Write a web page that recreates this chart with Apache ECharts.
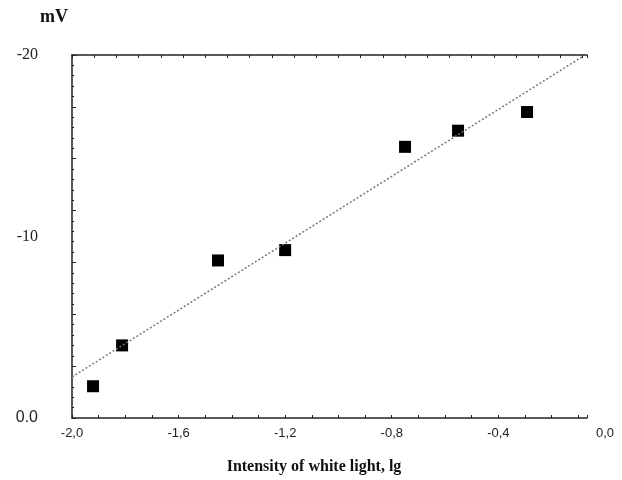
<!DOCTYPE html>
<html>
<head>
<meta charset="utf-8">
<script src="https://cdn.jsdelivr.net/npm/echarts@6/dist/echarts.min.js"></script>
<style>
  html, body { margin: 0; padding: 0; background: #fff; }
  #chart { width: 622px; height: 480px; }
</style>
</head>
<body>
<div id="chart"></div>
<script>
// measured points (log intensity, mV)
var lgIntensity = [-1.921, -1.812, -1.452, -1.2, -0.75, -0.551, -0.292];
var potential = [-1.75, -4.0, -8.68, -9.25, -14.94, -15.83, -16.86];
// fitted line end points
var fitX = [-2.0, -0.085];
var fitY = [-2.26, -19.9];
// tick labels
var xTicks = [-2.0, -1.6, -1.2, -0.8, -0.4, 0.0];
var yTicks = [-20, -10, 0];

var chart = echarts.init(document.getElementById('chart'));

function pairs(xs, ys) {
  return xs.map(function (x, i) { return [x, ys[i]]; });
}

var option = {
  animation: false,
  backgroundColor: '#fff',
  grid: [
    { left: 72, top: 55, width: 515, height: 363 },
    { left: 72, top: 55, width: 533, height: 363 }
  ],
  xAxis: [
    {
      // bottom axis of plot
      gridIndex: 0, type: 'value', min: -2, max: -0.067, interval: 0.1,
      axisLine: { lineStyle: { color: '#222', width: 1.5 } },
      axisTick: { inside: true, length: 3, lineStyle: { color: '#222' } },
      axisLabel: { show: false },
      splitLine: { show: false }
    },
    {
      // labels only, 0,0 sits beyond the frame
      gridIndex: 1, type: 'value', min: -2, max: 0, interval: 0.4,
      axisLine: { show: false },
      axisTick: { show: false },
      splitLine: { show: false },
      axisLabel: {
        margin: 9, fontFamily: 'Liberation Sans, Arial', fontSize: 13, color: '#222',
        showMinLabel: true, showMaxLabel: true,
        customValues: xTicks,
        formatter: function (v) { return v.toFixed(1).replace('.', ','); }
      }
    },
    {
      // top frame line
      gridIndex: 0, type: 'value', position: 'top', min: 0, max: 23.2, interval: 1,
      axisLine: { lineStyle: { color: '#222', width: 1.5 } },
      axisTick: { inside: true, length: 3, lineStyle: { color: '#222' } },
      axisLabel: { show: false },
      splitLine: { show: false }
    }
  ],
  yAxis: [
    {
      gridIndex: 0, type: 'value', inverse: true, min: -20, max: 0, interval: 20 / 7,
      axisLine: { show: true, lineStyle: { color: '#222', width: 1.5 } },
      axisTick: { show: true, inside: true, length: 4, lineStyle: { color: '#222' } },
      minorTick: { show: true, splitNumber: 5, length: 2, lineStyle: { color: '#222' } },
      splitLine: { show: false },
      axisLabel: {
        margin: 34, color: '#222',
        customValues: yTicks,
        formatter: function (v) {
          if (v === 0) return '{s|0.0}';
          return '{t|' + v + '}';
        },
        rich: {
          s: { fontFamily: 'Liberation Sans, Arial', fontSize: 16, color: '#222' },
          t: { fontFamily: 'Liberation Serif, Times New Roman', fontSize: 16, color: '#222' }
        }
      }
    },
    {
      gridIndex: 1, type: 'value', min: -20, max: 0, show: false
    }
  ],
  graphic: [
    {
      type: 'text', left: 40, top: 8,
      style: { text: 'mV', font: 'bold 18px "Liberation Serif"', fill: '#111' }
    },
    {
      type: 'text', x: 314, y: 467,
      style: {
        text: 'Intensity of white light, lg', font: 'bold 16px "Liberation Serif"',
        fill: '#111', textAlign: 'center', textVerticalAlign: 'middle'
      }
    }
  ],
  series: [
    {
      type: 'line', xAxisIndex: 0, yAxisIndex: 0,
      data: pairs(fitX, fitY),
      symbol: 'none',
      lineStyle: { color: '#777', width: 1.5, type: [2, 2] },
      silent: true
    },
    {
      type: 'scatter', xAxisIndex: 0, yAxisIndex: 0,
      data: pairs(lgIntensity, potential),
      symbol: 'rect', symbolSize: 12,
      itemStyle: { color: '#000', opacity: 1 }
    }
  ]
};

chart.setOption(option);
</script>
</body>
</html>
